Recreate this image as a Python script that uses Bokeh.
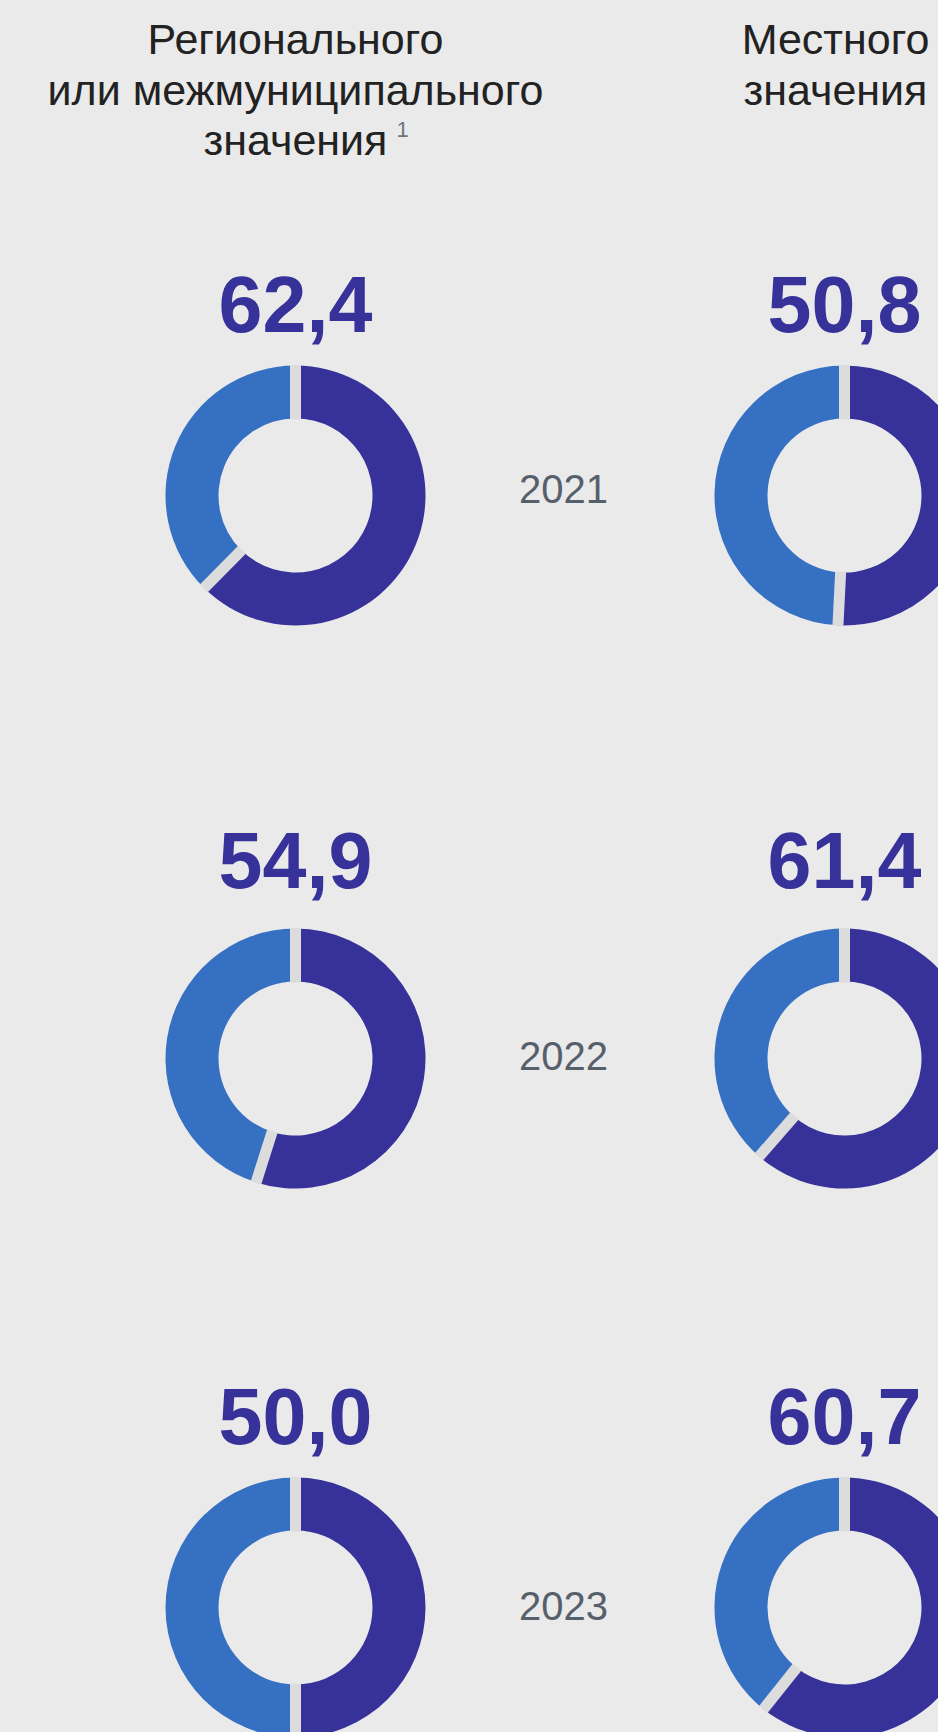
import math
from bokeh.plotting import figure
from bokeh.models import Range1d, ColumnDataSource
from bokeh.core.properties import value
from bokeh.embed import file_html
from bokeh.resources import INLINE

# ---------------- data ----------------
years = ["2021", "2022", "2023"]
regional = [62.4, 54.9, 50.0]     # Регионального или межмуниципального значения
local = [50.8, 61.4, 60.7]        # Местного значения
regional_header = ["Регионального", "или межмуниципального", "значения"]
local_header = ["Местного", "значения"]
footnote = "1"

# ---------------- style / layout ----------------
BG = "#eaeaea"
DARK = "#37319a"
LIGHT = "#3570c3"
GAP = "#dcdcdc"
TXT = "#222222"
YEAR_COL = "#56606b"
FONT = "Liberation Sans"

W, H = 938, 1732
col_x = [295, 844]
row_y = [495, 1058, 1607]
label_gap = [191, 198, 191]      # distance from donut centre to value label anchor
year_shift = [-7, -3, -2]
R_OUT, R_IN = 130, 77

def Y(py):  # page pixel y -> data y
    return -py

p = figure(width=W, height=H, x_range=Range1d(0, W), y_range=Range1d(-H, 0),
           output_backend="svg", toolbar_location=None, min_border=0,
           x_axis_type=None, y_axis_type=None,
           background_fill_color=BG, border_fill_color=BG, outline_line_color=None)
p.grid.visible = False

# build donut sources
dark = dict(x=[], y=[], s=[], e=[])
light = dict(x=[], y=[], s=[], e=[])
seps = dict(x0=[], y0=[], x1=[], y1=[])
labels = dict(x=[], y=[], t=[])
for ci, series in enumerate([regional, local]):
    for ri, v in enumerate(series):
        cx, cy = col_x[ci], Y(row_y[ri])
        a = 2 * math.pi * v / 100.0
        top = math.pi / 2
        b = top - a
        dark["x"].append(cx); dark["y"].append(cy); dark["s"].append(b); dark["e"].append(top)
        light["x"].append(cx); light["y"].append(cy); light["s"].append(top); light["e"].append(b + 2 * math.pi)
        for ang in (top, b):
            seps["x0"].append(cx + (R_IN - 1) * math.cos(ang)); seps["y0"].append(cy + (R_IN - 1) * math.sin(ang))
            seps["x1"].append(cx + (R_OUT + 0.5) * math.cos(ang)); seps["y1"].append(cy + (R_OUT + 0.5) * math.sin(ang))
        labels["x"].append(cx); labels["y"].append(Y(row_y[ri] - label_gap[ri]))
        labels["t"].append(f"{v:.1f}".replace(".", ","))

p.annular_wedge(x="x", y="y", inner_radius=R_IN, outer_radius=R_OUT, start_angle="s", end_angle="e",
                direction="anticlock", source=ColumnDataSource(dark), fill_color=DARK, line_color=None)
p.annular_wedge(x="x", y="y", inner_radius=R_IN, outer_radius=R_OUT, start_angle="s", end_angle="e",
                direction="anticlock", source=ColumnDataSource(light), fill_color=LIGHT, line_color=None)
p.segment(x0="x0", y0="y0", x1="x1", y1="y1", source=ColumnDataSource(seps),
          line_color=GAP, line_width=11, line_cap="butt")

# value labels
p.text(x="x", y="y", text="t", source=ColumnDataSource(labels),
       text_font=value(FONT), text_font_style="bold", text_font_size="79px",
       text_color=DARK, text_align="center", text_baseline="alphabetic")

# year labels
p.text(x=[563] * len(years), y=[Y(ry + s) for ry, s in zip(row_y, year_shift)], text=years,
       text_font=value(FONT), text_font_size="40px", text_color=YEAR_COL,
       text_align="center", text_baseline="alphabetic")

# headers
p.text(x=[col_x[0]] * len(regional_header), y=[Y(38), Y(89), Y(139)], text=regional_header,
       text_font=value(FONT), text_font_size="43px", text_color=TXT,
       text_align="center", text_baseline="alphabetic")
p.text(x=[396], y=[Y(129)], text=[footnote],
       text_font=value(FONT), text_font_size="22px", text_color="#6b7580",
       text_align="left", text_baseline="alphabetic")
p.text(x=[835] * len(local_header), y=[Y(38), Y(89)], text=local_header,
       text_font=value(FONT), text_font_size="43px", text_color=TXT,
       text_align="center", text_baseline="alphabetic")

html = file_html(p, INLINE)
html = html.replace("</head>", "<style>body{background:%s;}</style></head>" % BG, 1)
open("out.html", "w").write(html)
